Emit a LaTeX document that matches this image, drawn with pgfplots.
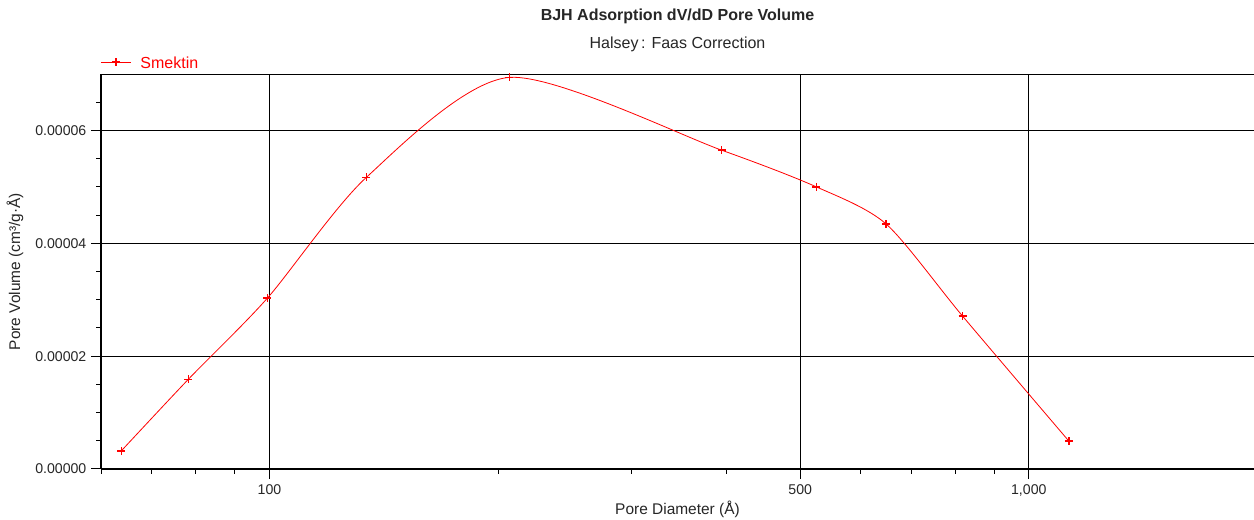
\documentclass[border=0pt]{standalone}
\usepackage{fontspec}
\setmainfont{Liberation Sans}
\usepackage{pgfplots}
\pgfplotsset{compat=1.18}

\begin{document}
\begin{tikzpicture}
% page = 1254 x 520 px at 0.75pt per px
\useasboundingbox (-75.75pt,-38.25pt) rectangle (864.75pt,351.75pt);
\begin{axis}[
  at={(0,0)}, anchor=south west,
  scale only axis, width=864.75pt, height=296.25pt,
  xmode=log, xmin=60, xmax=1980,
  ymin=0, ymax=0.00007,
  clip=false,
  axis lines=left,
  axis line style={-, line width=1.3pt, black},
  xtick={100,500,1000}, xticklabels={100,500,{1,000}},
  minor xtick={60,70,80,90,200,300,400,600,700,800,900},
  ytick={0,0.00002,0.00004,0.00006},
  yticklabels={0.00000,0.00002,0.00004,0.00006},
  minor ytick={0.000005,0.00001,0.000015,0.000025,0.00003,0.000035,0.000045,0.00005,0.000055,0.000065},
  scaled y ticks=false,
  tick align=outside,
  major tick length=7.5pt, minor tick length=3.75pt,
  every tick/.style={black, line width=0.75pt},
  grid=major, grid style={black, line width=0.75pt},
  font=\fontsize{11}{13}\selectfont,
  tick label style={font=\fontsize{10.6}{12}\selectfont, black!85},
  xticklabel style={yshift=-1pt},
  xlabel={Pore Diameter (Å)},
  ylabel={Pore Volume (cm³/g·Å)},
  every axis x label/.style={at={(axis description cs:0.5,-0.1013)}, anchor=center, black!85,
    font=\fontsize{11.6}{13}\selectfont},
  every axis y label/.style={at={(axis description cs:-0.0746,0.5)}, rotate=90, anchor=center, black!85,
    font=\fontsize{11.6}{13}\selectfont},
  legend style={at={(0,1)}, anchor=south west, draw=none, fill=none,
    text=red, inner sep=0pt, outer sep=0pt, yshift=4.5pt,
    font=\fontsize{12}{14}\selectfont,
    nodes={inner sep=0pt, text depth=0pt},
    /tikz/every odd column/.append style={column sep=7pt}},
  legend image code/.code={\draw[mark repeat=2,mark phase=2,#1] plot coordinates {(0pt,0pt) (11pt,0pt) (22pt,0pt)};},
]
  \addplot[red, line width=0.6pt, smooth, tension=0.45, mark=+, mark size=3pt,
    mark options={line width=1.1pt}] coordinates {
    (63.8,0.00000320) (78.2,0.0000159) (99.4,0.0000303) (134.2,0.0000517)
    (207,0.0000694) (394,0.0000565) (525,0.0000500) (649,0.0000434)
    (818,0.0000271) (1129,0.00000496)
  };
  \addlegendentry{Smektin}

  \draw[black, line width=0.75pt] (rel axis cs:0,1) -- (rel axis cs:1,1);
  \node[font=\bfseries\fontsize{12}{14}\selectfont, black!85] at (rel axis cs:0.5,1) [yshift=43.5pt] {BJH Adsorption dV/dD Pore Volume};
  \node[font=\fontsize{12}{14}\selectfont, black!85] at (rel axis cs:0.5,1) [yshift=22.5pt] {Halsey\,: Faas Correction};
\end{axis}
\end{tikzpicture}
\end{document}
